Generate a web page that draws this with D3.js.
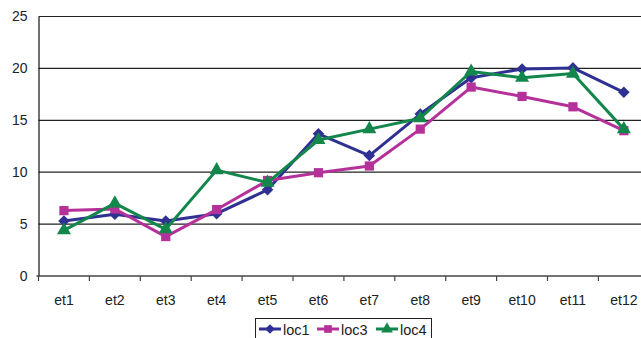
<!DOCTYPE html>
<html>
<head>
<meta charset="utf-8">
<script src="https://cdn.jsdelivr.net/npm/d3@7"></script>
<style>
  html, body { margin: 0; padding: 0; background: #fff; }
  svg { display: block; font-family: "Liberation Sans", Arial, sans-serif; }
</style>
</head>
<body>
<svg id="chart" width="641" height="338"></svg>
<script>
// Categories and series values
const categories = ["et1","et2","et3","et4","et5","et6","et7","et8","et9","et10","et11","et12"];
const loc1 = [5.3, 5.95, 5.3, 6.0, 8.3, 13.7, 11.6, 15.6, 19.1, 19.95, 20.05, 17.7];
const loc3 = [6.3, 6.45, 3.8, 6.4, 9.2, 9.95, 10.6, 14.15, 18.2, 17.3, 16.3, 14.0];
const loc4 = [4.4, 7.0, 4.5, 10.2, 9.0, 13.1, 14.15, 15.2, 19.7, 19.1, 19.5, 14.15];
const yTicks = [0, 5, 10, 15, 20, 25];

const seriesList = [
  { name: "loc1", values: loc1, color: "#2E3192", marker: d3.symbolDiamond2, size: 85 },
  { name: "loc3", values: loc3, color: "#B5319A", marker: d3.symbolSquare, size: 85 },
  { name: "loc4", values: loc4, color: "#13874B", marker: d3.symbolTriangle, size: 85 }
];

const svg = d3.select("#chart");
const left = 38.5, bandW = 50.9;
const x = d3.scaleBand().domain(categories).range([left, left + bandW * categories.length]).padding(0);
const y = d3.scaleLinear().domain([0, 25]).range([276, 16.5]);

// Horizontal gridlines
svg.append("g").selectAll("line").data(yTicks.filter(t => t > 0)).join("line")
  .attr("x1", left).attr("x2", 660)
  .attr("y1", d => y(d)).attr("y2", d => y(d))
  .attr("stroke", "#222").attr("stroke-width", 1.2);

// Y axis
const yAxis = d3.axisLeft(y).tickValues(yTicks).tickSize(0).tickPadding(11);
const gy = svg.append("g").attr("transform", `translate(${left},0)`).call(yAxis);
gy.select(".domain").attr("stroke", "#111").attr("stroke-width", 1.2);
gy.selectAll("text").attr("font-size", 14).attr("fill", "#222")
  .attr("font-family", "Liberation Sans, Arial, sans-serif");

// X axis with ticks on band boundaries
const gx = svg.append("g").attr("transform", `translate(0,${y(0)})`);
gx.append("line").attr("x1", left - 2).attr("x2", 660).attr("stroke", "#444").attr("stroke-width", 1.6);
gx.selectAll("line.tk").data(d3.range(categories.length + 1)).join("line")
  .attr("class", "tk")
  .attr("x1", i => left + i * bandW).attr("x2", i => left + i * bandW)
  .attr("y1", 0).attr("y2", 5).attr("stroke", "#444").attr("stroke-width", 1.2);
gx.selectAll("text").data(categories).join("text")
  .attr("x", d => x(d) + x.bandwidth() / 2).attr("y", 29)
  .attr("text-anchor", "middle").attr("font-size", 14).attr("fill", "#222")
  .text(d => d);

// Series lines and markers
const line = d3.line().x((d, i) => x(categories[i]) + x.bandwidth() / 2).y(d => y(d));
seriesList.forEach(s => {
  svg.append("path").datum(s.values).attr("d", line)
    .attr("fill", "none").attr("stroke", s.color).attr("stroke-width", 3)
    .attr("stroke-linejoin", "round");
  svg.append("g").selectAll("path").data(s.values).join("path")
    .attr("transform", (d, i) => `translate(${x(categories[i]) + x.bandwidth() / 2},${y(d)})`)
    .attr("d", d3.symbol().type(s.marker).size(s.size)())
    .attr("fill", s.color);
});

// Legend
const lg = svg.append("g");
lg.append("rect").attr("x", 255.5).attr("y", 318.5).attr("width", 176).attr("height", 25)
  .attr("fill", "#fff").attr("stroke", "#222").attr("stroke-width", 1);
const legX = [259, 317, 376];
seriesList.forEach((s, i) => {
  const g = lg.append("g").attr("transform", `translate(${legX[i]},329)`);
  g.append("line").attr("x1", 0).attr("x2", 22).attr("stroke", s.color).attr("stroke-width", 3);
  g.append("path").attr("transform", "translate(11,0)")
    .attr("d", d3.symbol().type(s.marker).size(s.size * 0.7)()).attr("fill", s.color);
  g.append("text").attr("x", 24).attr("y", 6).attr("font-size", 14.5).attr("fill", "#222").text(s.name);
});
</script>
</body>
</html>
